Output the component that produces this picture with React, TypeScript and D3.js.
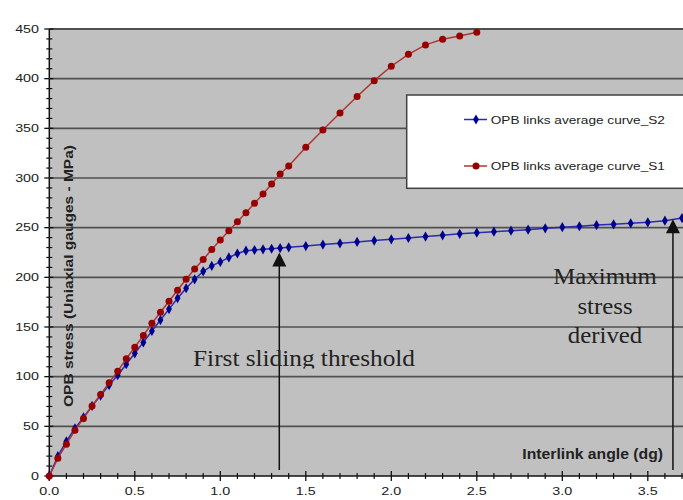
import React from 'react';
import * as d3 from 'd3';

// Data
const xS2 = [0, 0.05, 0.1, 0.15, 0.2, 0.25, 0.3, 0.35, 0.4, 0.45, 0.5, 0.55, 0.6, 0.65, 0.7, 0.75, 0.8, 0.85, 0.9, 0.95,
  1.0, 1.05, 1.1, 1.15, 1.2, 1.25, 1.3, 1.35, 1.4, 1.5, 1.6, 1.7, 1.8, 1.9, 2.0, 2.1, 2.2, 2.3, 2.4,
  2.5, 2.6, 2.7, 2.8, 2.9, 3.0, 3.1, 3.2, 3.3, 3.4, 3.5, 3.6, 3.7];
const yS2 = [0, 20, 35, 48, 59, 70.5, 81, 91.5, 101.5, 112.5, 123.5, 134.5, 146, 157, 168, 179, 189, 198, 206, 211.5,
  215.5, 220, 224, 226.8, 227.5, 228.2, 228.8, 229.5, 230.2, 231.5, 233, 234.2, 235.6, 237, 238.3, 239.6, 241, 242.3, 243.8,
  245, 246, 247, 248, 249.3, 250.5, 251.4, 252.6, 253.4, 254.4, 255.4, 257, 259.7];

const xS1 = [0, 0.05, 0.1, 0.15, 0.2, 0.25, 0.3, 0.35, 0.4, 0.45, 0.5, 0.55, 0.6, 0.65, 0.7, 0.75, 0.8, 0.85, 0.9, 0.95,
  1.0, 1.05, 1.1, 1.15, 1.2, 1.25, 1.3, 1.35, 1.4, 1.5, 1.6, 1.7, 1.8, 1.9, 2.0, 2.1, 2.2, 2.3, 2.4, 2.5];
const yS1 = [0, 17.8, 32, 46, 58, 70.5, 82, 94, 105.4, 118, 129.6, 141.5, 153.7, 164.8, 176, 187, 198, 208.4, 218, 228,
  237.6, 247, 256, 265, 274.5, 284, 294, 304, 312, 331, 348.3, 365.4, 382, 398, 412.5, 424.5, 434, 439.6, 443, 446.7];

const seriesNames = ['OPB links average curve_S2', 'OPB links average curve_S1'];

const yTicks = [0, 50, 100, 150, 200, 250, 300, 350, 400, 450];
const xTicks = [0, 0.5, 1.0, 1.5, 2.0, 2.5, 3.0, 3.5];

// annotation arrows: x position, bottom value, tip value
const arrowX = [1.345, 3.647];
const arrowTip = [225, 258.5];
const arrowBase = [6, 6];

const W = 683;
const H = 500;
const left = 49.3;
const top = 29;
const bottom = 476;

const App = () => {
  const x = d3.scaleLinear().domain([0, 3.7]).range([left, left + 3.7 * 171]);
  const y = d3.scaleLinear().domain([0, 450]).range([bottom, top]);

  const line = d3.line<number>()
    .x(d => d);

  const path = (xs: number[], ys: number[]) =>
    d3.line<number>().x((d, i) => x(xs[i])).y(d => y(d))(ys) || '';

  const diamond = d3.symbol().type(d3.symbolDiamond).size(30)() || '';

  const minorY = d3.range(0, 451, 10).filter(v => v % 50 !== 0);
  const minorX = d3.range(0, 3.75, 0.1).filter(v => Math.abs(v * 2 - Math.round(v * 2)) > 0.01);

  const blue = '#000090';
  const blueLine = '#2a2ab0';
  const red = '#980000';
  const redLine = '#b03535';
  const sans = 'Arial, "Liberation Sans", sans-serif';
  const serif = '"Times New Roman", "Liberation Serif", serif';

  return (
    <svg width={W} height={H} style={{ position: 'absolute', left: 0, top: 0, background: '#fff' }}>
      <defs>
        <clipPath id="firstClip">
          <rect x={150} y={330} width={300} height={38.5} />
        </clipPath>
      </defs>

      {/* plot area */}
      <rect x={left} y={top} width={W - left} height={bottom - top} fill="#c0c0c0" />

      {/* grid lines */}
      {yTicks.filter(t => t > 0).map(t => (
        <line key={t} x1={left} x2={W} y1={y(t)} y2={y(t)} stroke="#505050" strokeWidth={t === 450 ? 2.2 : 1.6} />
      ))}

      {/* axes */}
      <line x1={left} x2={left} y1={top} y2={bottom} stroke="#111" strokeWidth={1.5} />
      <line x1={left} x2={W} y1={bottom} y2={bottom} stroke="#111" strokeWidth={1.5} />
      {yTicks.map(t => (
        <line key={'yt' + t} x1={left - 5} x2={left + 4} y1={y(t)} y2={y(t)} stroke="#111" strokeWidth={1.3} />
      ))}
      {minorY.map(t => (
        <line key={'ym' + t} x1={left - 3} x2={left + 3} y1={y(t)} y2={y(t)} stroke="#111" strokeWidth={1.2} />
      ))}
      {xTicks.map(t => (
        <line key={'xt' + t} x1={x(t)} x2={x(t)} y1={bottom - 5} y2={bottom + 5} stroke="#111" strokeWidth={1.3} />
      ))}
      {minorX.map(t => (
        <line key={'xm' + t} x1={x(t)} x2={x(t)} y1={bottom - 3} y2={bottom + 3} stroke="#111" strokeWidth={1.2} />
      ))}

      {yTicks.map(t => (
        <text key={'yl' + t} transform={`translate(39,${y(t) + 3.8}) scale(1.3,1)`} textAnchor="end"
          fontFamily={sans} fontSize={11} fill="#222">{t}</text>
      ))}
      {xTicks.map(t => (
        <text key={'xl' + t} transform={`translate(${x(t)},${495}) scale(1.3,1)`} textAnchor="middle"
          fontFamily={sans} fontSize={11} fill="#222">{t.toFixed(1)}</text>
      ))}

      {/* axis titles */}
      <text transform={`translate(73,${276}) rotate(-90) scale(1.15,1)`} textAnchor="middle"
        fontFamily={sans} fontSize={13.5} fontWeight="bold" fill="#222">OPB stress (Uniaxial gauges - MPa)</text>
      <text transform={`translate(663,459) scale(1.05,1)`} textAnchor="end"
        fontFamily={sans} fontSize={15} fontWeight="bold" fill="#222">Interlink angle (dg)</text>

      {/* series S2 */}
      <path d={path(xS2, yS2)} fill="none" stroke={blueLine} strokeWidth={1.5} />
      {yS2.map((v, i) => (
        <path key={'b' + i} d={diamond} transform={`translate(${x(xS2[i])},${y(v)})`} fill={blue} />
      ))}

      {/* series S1 */}
      <path d={path(xS1, yS1)} fill="none" stroke={redLine} strokeWidth={1.5} />
      {yS1.map((v, i) => (
        <circle key={'r' + i} cx={x(xS1[i])} cy={y(v)} r={3.5} fill={red} />
      ))}

      {/* arrows */}
      {arrowX.map((ax, i) => (
        <g key={'a' + i}>
          <line x1={x(ax)} x2={x(ax)} y1={y(arrowBase[i])} y2={y(arrowTip[i]) + 10} stroke="#111" strokeWidth={1.5} />
          <path d={`M${x(ax)},${y(arrowTip[i])} L${x(ax) + 7},${y(arrowTip[i]) + 14} L${x(ax) - 7},${y(arrowTip[i]) + 14} Z`} fill="#111" />
        </g>
      ))}

      {/* annotations */}
      <g clipPath="url(#firstClip)">
        <text transform="translate(304,366) scale(1.1,1)" textAnchor="middle" fontFamily={serif} fontSize={23} fill="#222">First sliding threshold</text>
      </g>
      <text transform="translate(605,284) scale(1.08,1)" textAnchor="middle" fontFamily={serif} fontSize={23} fill="#222">Maximum</text>
      <text transform="translate(605,314) scale(1.08,1)" textAnchor="middle" fontFamily={serif} fontSize={23} fill="#222">stress</text>
      <text transform="translate(605,343) scale(1.08,1)" textAnchor="middle" fontFamily={serif} fontSize={23} fill="#222">derived</text>

      {/* legend */}
      <rect x={406.7} y={95} width={290} height={93.3} fill="#fff" stroke="#404040" strokeWidth={1.5} />
      {seriesNames.map((name, i) => {
        const ly = i === 0 ? 119.5 : 166;
        return (
          <g key={name}>
            <line x1={464} x2={487} y1={ly} y2={ly} stroke={i === 0 ? blueLine : redLine} strokeWidth={1.5} />
            {i === 0
              ? <path d={diamond} transform={`translate(476,${ly})`} fill={blue} />
              : <circle cx={476} cy={ly} r={3.5} fill={red} />}
            <text transform={`translate(490.7,${ly + 4}) scale(1.3,1)`} fontFamily={sans} fontSize={10.5} fill="#222">{name}</text>
          </g>
        );
      })}
    </svg>
  );
};

export default App;
